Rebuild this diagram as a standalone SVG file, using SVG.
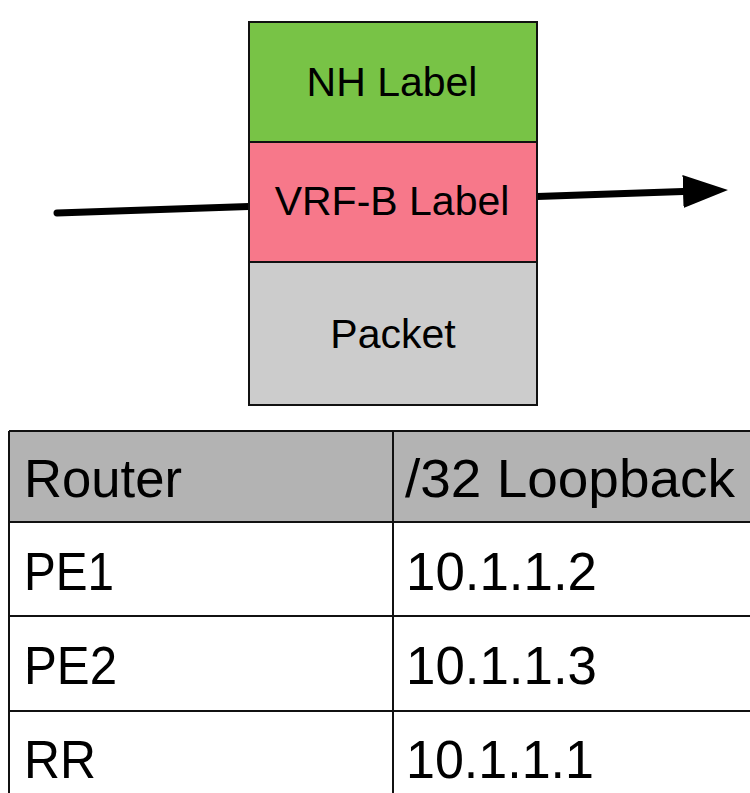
<svg xmlns="http://www.w3.org/2000/svg" width="750" height="793" viewBox="0 0 750 793">
  <style>
    .cell { stroke: #111; stroke-width: 2; }
    .lbl { font-family: "Liberation Sans", Arial, sans-serif; font-size: 41px; fill: #000; text-anchor: middle; }
    .tbl { font-family: "Liberation Sans", Arial, sans-serif; font-size: 53px; fill: #000; }
    .grid { stroke: #111; stroke-width: 2; fill: none; }
  </style>
  <defs>
    <marker id="arrowhead" viewBox="0 0 45 33" refX="0" refY="16.5" markerWidth="45" markerHeight="33" markerUnits="userSpaceOnUse" orient="auto">
      <path d="M0,0 L45,16.5 L0,33 Z" fill="#000"/>
    </marker>
  </defs>

  <!-- flow line passing through the label stack -->
  <g id="connectors">
    <line x1="57" y1="213" x2="683" y2="191.5" stroke="#000" stroke-width="7" stroke-linecap="round" marker-end="url(#arrowhead)"/>
  </g>

  <!-- label stack -->
  <g id="nh-label">
    <rect class="cell" x="249" y="22" width="288" height="120" fill="#78c346"/>
    <text class="lbl" x="392" y="96">NH Label</text>
  </g>
  <g id="vrf-b-label">
    <rect class="cell" x="249" y="142" width="288" height="120" fill="#f7788a"/>
    <text class="lbl" x="392" y="215">VRF-B Label</text>
  </g>
  <g id="packet">
    <rect class="cell" x="249" y="262" width="288" height="143" fill="#cccccc"/>
    <text class="lbl" x="393" y="348">Packet</text>
  </g>

  <!-- loopback address table -->
  <g id="table">
    <rect x="9" y="431" width="760" height="91" fill="#b3b3b3"/>
    <rect x="9" y="522" width="760" height="290" fill="#fff"/>
    <path class="grid" d="M9,431 H770 M9,522 H770 M9,616 H770 M9,711 H770 M9,431 V800 M393,431 V800"/>
    <text class="tbl" x="24" y="497" textLength="158" lengthAdjust="spacingAndGlyphs">Router</text>
    <text class="tbl" x="405" y="497" textLength="330" lengthAdjust="spacingAndGlyphs">/32 Loopback</text>
    <text class="tbl" x="24" y="590" textLength="90" lengthAdjust="spacingAndGlyphs">PE1</text>
    <text class="tbl" x="406" y="590" textLength="191" lengthAdjust="spacingAndGlyphs">10.1.1.2</text>
    <text class="tbl" x="24" y="684" textLength="93" lengthAdjust="spacingAndGlyphs">PE2</text>
    <text class="tbl" x="406" y="684" textLength="191" lengthAdjust="spacingAndGlyphs">10.1.1.3</text>
    <text class="tbl" x="24" y="778" textLength="72" lengthAdjust="spacingAndGlyphs">RR</text>
    <text class="tbl" x="406" y="778" textLength="188" lengthAdjust="spacingAndGlyphs">10.1.1.1</text>
  </g>
</svg>
